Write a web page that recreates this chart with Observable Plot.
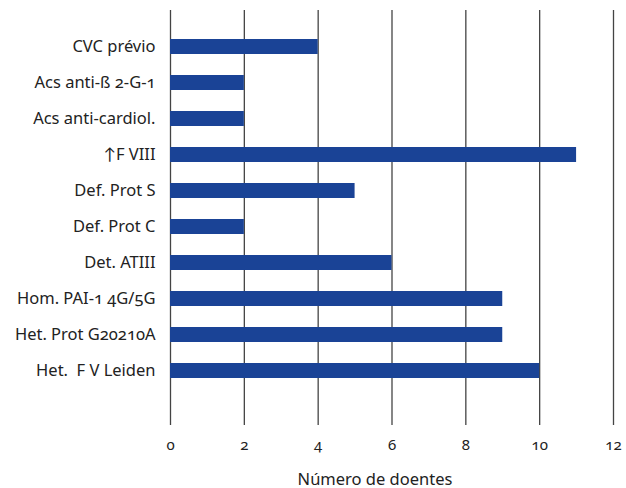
<!DOCTYPE html>
<html>
<head>
<meta charset="utf-8">
<script src="https://cdn.jsdelivr.net/npm/d3@7"></script>
<script src="https://cdn.jsdelivr.net/npm/@observablehq/plot@0.6"></script>
<style>
  body { margin: 0; background: #fff; }
  svg { font-family: "Noto Sans", Lato, sans-serif; font-variant-numeric: oldstyle-nums; font-feature-settings: "onum"; }
</style>
</head>
<body>
<div id="chart"></div>
<script>
const categories = [
  "CVC prévio",
  "Acs anti-ß 2-G-1",
  "Acs anti-cardiol.",
  "\u2191F VIII",
  "Def. Prot S",
  "Def. Prot C",
  "Det. ATIII",
  "Hom. PAI-1 4G/5G",
  "Het. Prot G20210A",
  "Het.\u00a0 F V Leiden"
];
const values = [4, 2, 2, 11, 5, 2, 6, 9, 9, 10];
const xTicks = [0, 2, 4, 6, 8, 10, 12];
const xLabel = "Número de doentes";

const data = categories.map((c, i) => ({category: c, value: values[i]}));

const chart = Plot.plot({
  width: 626,
  height: 488,
  marginLeft: 170,
  marginRight: 13,
  marginTop: 10,
  marginBottom: 63,
  style: {fontSize: "16px", color: "#222"},
  x: {domain: [0, 12], ticks: xTicks},
  y: {domain: categories, range: [36.5, 379.5], paddingInner: 0.59, paddingOuter: 0},
  marks: [
    Plot.ruleX(xTicks, {stroke: "#444", strokeWidth: 1.3}),
    Plot.barX(data, {x: "value", y: "category", fill: "#1a4396"}),
    Plot.axisY({tickSize: 0, tickPadding: 15, label: null, fontSize: 16.5}),
    Plot.axisX({tickSize: 0, tickPadding: 14, label: null, fontSize: 15, tickFormat: d => String(d)}),
    Plot.text([xLabel], {frameAnchor: "bottom", lineAnchor: "bottom", dy: 59, dx: -17, fontSize: 16.5, fill: "#222"})
  ]
});
document.getElementById("chart").appendChild(chart);
</script>
</body>
</html>
